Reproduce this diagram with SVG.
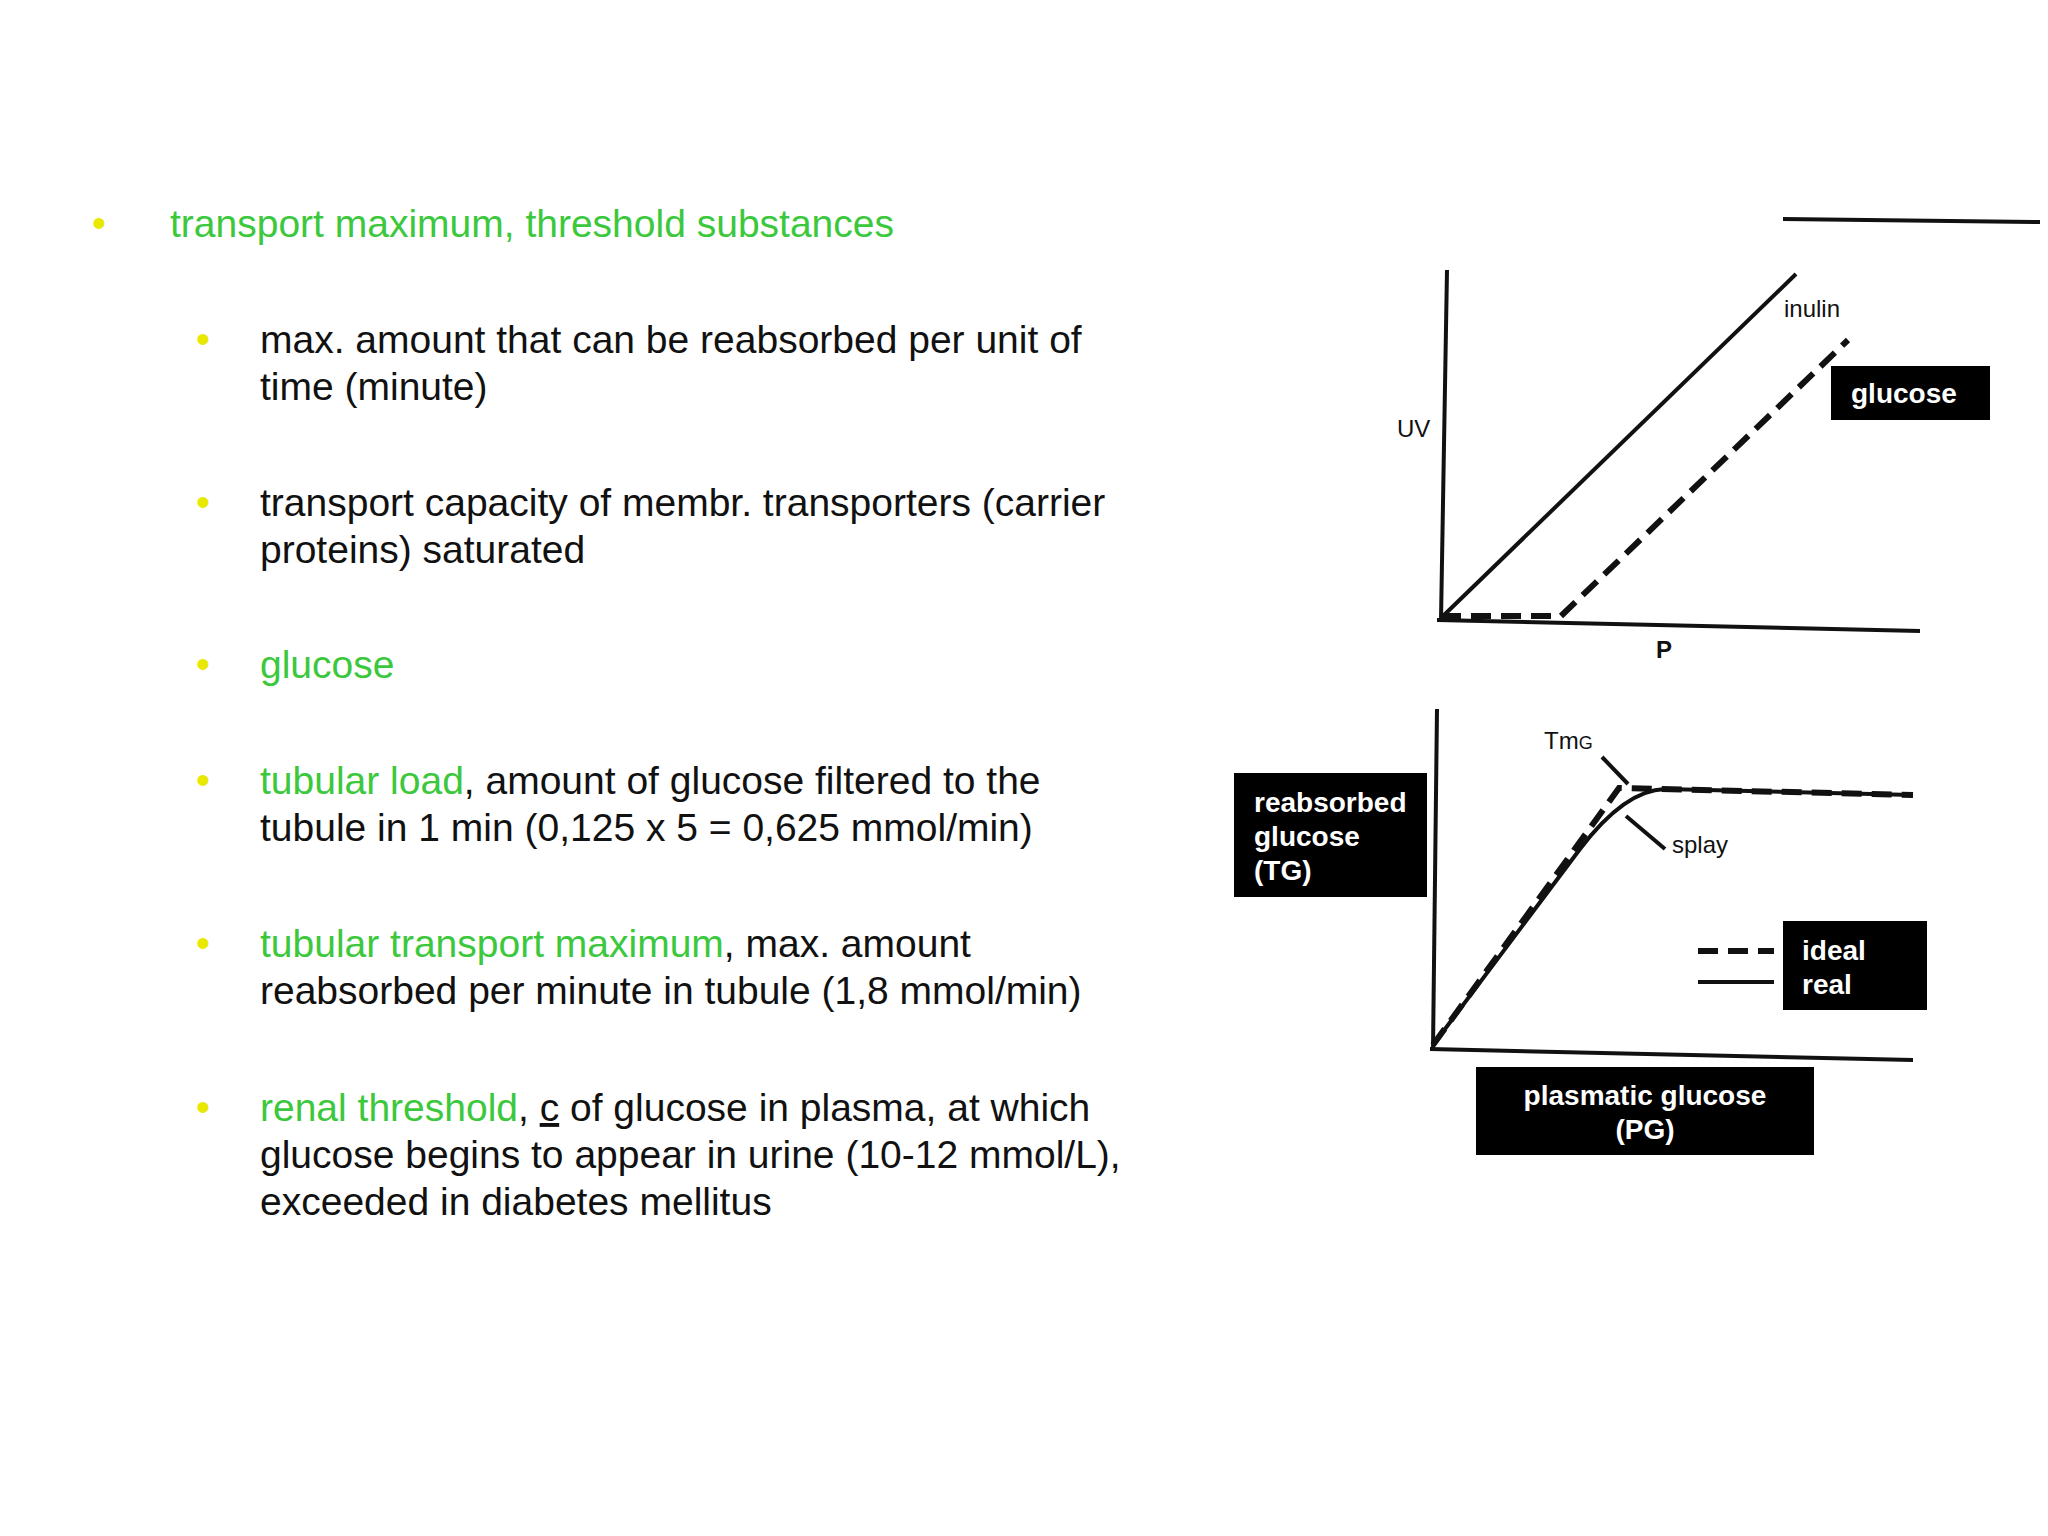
<svg xmlns="http://www.w3.org/2000/svg" width="2048" height="1536" viewBox="0 0 2048 1536">
<style>
.t{font-family:"Liberation Sans",Arial,sans-serif;font-size:39px;fill:#111}
.g{fill:#3cc83c}
.b{font-family:"Liberation Sans",Arial,sans-serif;font-size:40px;fill:#e8e800}
.lb{font-family:"Liberation Sans",Arial,sans-serif;font-size:28px;font-weight:bold;fill:#fff}
.ax{font-family:"Liberation Sans",Arial,sans-serif;font-size:24px;fill:#111}
.ln{stroke:#111;fill:none;stroke-width:4}
.ds{stroke:#111;fill:none;stroke-width:6;stroke-dasharray:20 10}
</style>
<rect width="2048" height="1536" fill="#fff"/>
<g id="text">
<text class="b" x="92" y="237">•</text>
<text class="t g" x="170" y="237">transport maximum, threshold substances</text>
<text class="b" x="196" y="353">•</text>
<text class="t" x="260" y="353">max. amount that can be reabsorbed per unit of</text>
<text class="t" x="260" y="400">time (minute)</text>
<text class="b" x="196" y="516">•</text>
<text class="t" x="260" y="516">transport capacity of membr. transporters (carrier</text>
<text class="t" x="260" y="563">proteins) saturated</text>
<text class="b" x="196" y="678">•</text>
<text class="t g" x="260" y="678">glucose</text>
<text class="b" x="196" y="794">•</text>
<text class="t" x="260" y="794"><tspan class="g">tubular load</tspan>, amount of glucose filtered to the</text>
<text class="t" x="260" y="841">tubule in 1 min (0,125 x 5 = 0,625 mmol/min)</text>
<text class="b" x="196" y="957">•</text>
<text class="t" x="260" y="957"><tspan class="g">tubular transport maximum</tspan>, max. amount</text>
<text class="t" x="260" y="1004">reabsorbed per minute in tubule (1,8 mmol/min)</text>
<text class="b" x="196" y="1121">•</text>
<text class="t" x="260" y="1121"><tspan class="g">renal threshold</tspan>, <tspan text-decoration="underline">c</tspan> of glucose in plasma, at which</text>
<text class="t" x="260" y="1168">glucose begins to appear in urine (10-12 mmol/L),</text>
<text class="t" x="260" y="1215">exceeded in diabetes mellitus</text>
</g>
<g id="chart1">
<line class="ln" x1="1783" y1="219" x2="2040" y2="222" stroke-width="3"/>
<line class="ln" x1="1447" y1="270" x2="1441" y2="620" stroke-width="3"/>
<line class="ln" x1="1437" y1="620" x2="1920" y2="631" stroke-width="3"/>
<line class="ln" x1="1441" y1="618" x2="1796" y2="274"/>
<polyline class="ds" points="1441,616 1561,616 1848,340"/>
<text class="ax" x="1784" y="317">inulin</text>
<text class="ax" x="1397" y="437">UV</text>
<text class="ax" x="1656" y="658" font-size="20" font-weight="bold">P</text>
<rect x="1831" y="366" width="159" height="54" fill="#000"/>
<text class="lb" x="1851" y="403">glucose</text>
</g>
<g id="chart2">
<line class="ln" x1="1437" y1="709" x2="1433" y2="1049" stroke-width="3"/>
<line class="ln" x1="1430" y1="1049" x2="1913" y2="1060" stroke-width="3"/>
<polyline class="ds" points="1433,1045 1619,788 1913,795"/>
<path class="ln" d="M1433,1045 L1580,849 Q1625,790 1665,789 L1913,795" stroke-width="5"/>
<text class="ax" x="1544" y="749">Tm<tspan font-size="18">G</tspan></text>
<line class="ln" x1="1602" y1="757" x2="1628" y2="784" stroke-width="2"/>
<text class="ax" x="1672" y="853">splay</text>
<line class="ln" x1="1626" y1="816" x2="1665" y2="849" stroke-width="2"/>
<rect x="1234" y="773" width="193" height="124" fill="#000"/>
<text class="lb" x="1254" y="812">reabsorbed</text>
<text class="lb" x="1254" y="846">glucose</text>
<text class="lb" x="1254" y="880">(TG)</text>
<line class="ds" x1="1698" y1="951" x2="1774" y2="951" stroke-dasharray="16 6"/>
<line class="ln" x1="1698" y1="982" x2="1774" y2="982" stroke-width="6"/>
<rect x="1783" y="921" width="144" height="89" fill="#000"/>
<text class="lb" x="1802" y="960">ideal</text>
<text class="lb" x="1802" y="994">real</text>
<rect x="1476" y="1067" width="338" height="88" fill="#000"/>
<text class="lb" x="1645" y="1105" text-anchor="middle">plasmatic glucose</text>
<text class="lb" x="1645" y="1139" text-anchor="middle">(PG)</text>
</g>
</svg>
